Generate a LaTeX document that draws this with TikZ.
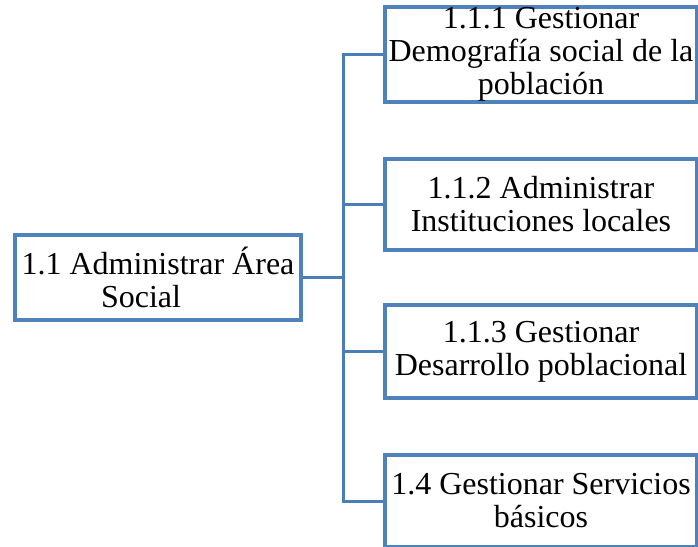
\documentclass[tikz,border=0pt]{standalone}
\usepackage{fontspec}
\setmainfont{Liberation Serif}
\begin{document}
\begin{tikzpicture}[x=0.5pt,y=-0.5pt,
  taskbox/.style={draw=boxblue, line width=2pt, fill=white, align=center,
    inner sep=0pt, font=\fontsize{16}{16.5}\selectfont},
  link/.style={draw=linkblue, line width=1.5pt}]
\definecolor{boxblue}{HTML}{4F81BD}
\definecolor{linkblue}{HTML}{4A7EBB}
\clip (0,0) rectangle (698,547);
\fill[white] (0,0) rectangle (698,547);

% root task
\node[taskbox, minimum width=143pt, minimum height=42.5pt] (b0) at (158,277.5)
  {1.1 Administrar Área\\Social\hspace*{17pt}};

% sub-tasks
\node[taskbox, minimum width=156pt, minimum height=47.5pt] (b1) at (541,54.5)
  {1.1.1 Gestionar\\Demografía social de la\\población};
\node[taskbox, minimum width=156pt, minimum height=45.5pt] (b2) at (541,204.5)
  {1.1.2 Administrar\\Instituciones locales};
\node[taskbox, minimum width=156pt, minimum height=46.5pt] (b3) at (541,351.5)
  {1.1.3 Gestionar\\Desarrollo poblacional};
\node[taskbox, minimum width=156pt, minimum height=46pt] (b4) at (541,501)
  {1.4 Gestionar Servicios\\básicos};

% tree connectors
\coordinate (j) at (343,277.5);
\draw[link] (b0.east) -- (j);
\draw[link] (j) |- (b1.west);
\draw[link] (j) |- (b2.west);
\draw[link] (j) |- (b3.west);
\draw[link] (j) |- (b4.west);
\end{tikzpicture}
\end{document}
